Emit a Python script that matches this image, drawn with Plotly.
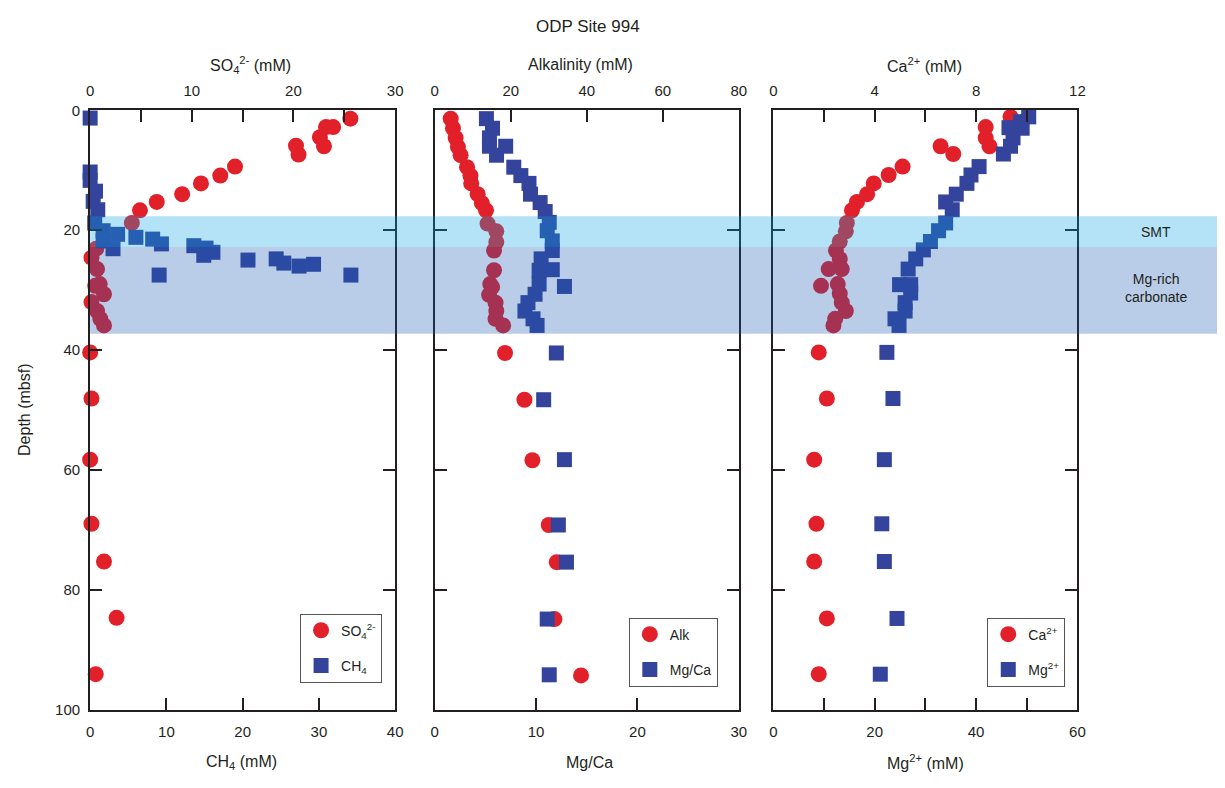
import plotly.graph_objects as go

# ---------------- data (depth in mbsf) ----------------
so4_depth = [1.4, 2.8, 2.8, 4.5, 5.9, 6.0, 7.4, 9.4, 10.9, 12.2, 14.0, 15.3, 16.7, 18.8,
             23.1, 24.6, 26.5, 29.0, 29.3, 30.7, 32.0, 33.5, 34.8, 35.9, 40.4, 48.1,
             58.3, 69.0, 75.3, 84.7, 94.1]
so4_val = [25.6, 23.2, 23.9, 22.6, 20.25, 23.0, 20.5, 14.25, 12.8, 10.9, 9.05, 6.55, 4.9, 4.1,
           0.6, 0.13, 0.68, 0.94, 0.5, 1.36, 0.13, 0.68, 1.0, 1.36, 0.0, 0.13,
           0.0, 0.13, 1.36, 2.6, 0.55]

ch4_depth = [1.3, 10.3, 11.7, 13.5, 15.2, 16.6, 18.8, 20.1, 20.7, 21.2, 21.5, 21.8, 22.3,
             22.6, 23.0, 23.1, 23.7, 24.2, 24.8, 25.0, 25.5, 25.7, 26.0, 27.5, 27.5]
ch4_val = [0.0, 0.0, 0.0, 0.7, 0.4, 1.0, 0.6, 1.7, 3.6, 6.0, 8.2, 1.7, 9.35,
           13.6, 15.2, 3.0, 16.1, 14.9, 24.4, 20.7, 25.4, 29.3, 27.4, 9.05, 34.2]

alk_depth = [1.4, 3.0, 4.6, 6.1, 7.5, 9.5, 10.9, 12.2, 14.0, 15.5, 16.7, 18.9, 20.2, 22.0,
             23.4, 26.7, 29.0, 29.5, 30.8, 32.1, 33.5, 34.8, 35.9, 40.5, 48.3, 58.4,
             69.2, 75.4, 84.9, 94.3]
alk_val = [4.2, 4.8, 5.5, 6.1, 6.8, 8.5, 9.4, 9.6, 11.3, 12.4, 13.5, 13.9, 16.2, 16.2,
           15.6, 15.6, 14.6, 15.1, 14.3, 16.0, 16.2, 16.0, 18.0, 18.5, 23.6, 25.7,
           30.0, 32.1, 31.5, 38.5]

mgca_depth = [1.4, 3.0, 4.6, 6.0, 6.0, 7.5, 9.5, 10.9, 12.2, 14.0, 15.4, 16.9, 18.7, 20.1,
              21.8, 23.4, 24.8, 26.6, 26.7, 29.0, 29.4, 30.7, 32.1, 33.5, 34.8, 35.9,
              40.5, 48.3, 58.3, 69.2, 75.4, 84.9, 94.2]
mgca_val = [5.1, 5.7, 5.4, 5.4, 7.0, 6.1, 7.8, 8.5, 9.3, 9.45, 10.4, 10.9, 11.3, 11.1,
            11.6, 11.6, 10.5, 11.6, 10.3, 10.3, 12.8, 9.9, 9.2, 8.9, 9.7, 10.1,
            12.0, 10.75, 12.8, 12.2, 13.0, 11.1, 11.3]

ca_depth = [1.1, 2.8, 4.6, 6.0, 6.0, 7.3, 9.4, 10.8, 12.2, 14.0, 15.3, 16.7, 18.8, 20.2,
            21.9, 23.4, 24.8, 26.5, 26.5, 29.0, 29.3, 30.6, 32.1, 33.5, 34.8, 35.9,
            40.4, 48.1, 58.3, 69.0, 75.3, 84.8, 94.1]
ca_val = [9.36, 8.38, 8.38, 8.53, 6.6, 7.1, 5.1, 4.55, 3.96, 3.7, 3.3, 3.1, 2.9, 2.86,
          2.62, 2.47, 2.62, 2.7, 2.18, 2.54, 1.88, 2.62, 2.7, 2.86, 2.44, 2.37,
          1.79, 2.11, 1.61, 1.7, 1.61, 2.11, 1.79]

mg_depth = [1.1, 1.9, 2.9, 3.0, 4.6, 6.0, 7.3, 9.4, 10.8, 12.2, 14.0, 15.3, 16.6, 18.8,
            20.1, 21.9, 23.3, 24.8, 26.5, 29.1, 29.1, 30.5, 32.1, 33.5, 34.8, 35.9,
            40.4, 48.1, 58.3, 69.0, 75.3, 84.8, 94.1]
mg_val = [50.4, 48.8, 46.5, 49.1, 47.3, 46.8, 45.4, 40.6, 39.0, 38.2, 36.1, 34.0, 35.3, 34.0,
          32.6, 31.0, 29.6, 28.1, 26.6, 27.1, 24.9, 27.1, 26.0, 26.0, 24.0, 24.8,
          22.4, 23.6, 21.9, 21.4, 21.9, 24.4, 21.1]

# zone boundaries (mbsf)
smt_top, smt_bottom, carb_bottom = 17.7, 22.8, 37.3

# tick labels
top_ticks = [[0, 10, 20, 30], [0, 20, 40, 60, 80], [0, 4, 8, 12]]
top_minor = [5, 20, 2]
bot_ticks = [[0, 10, 20, 30, 40], [0, 10, 20, 30], [0, 20, 40, 60]]
bot_minor = [10, 10, 10]
top_ranges = [[0, 30], [0, 80], [0, 12]]
bot_ranges = [[0, 40], [0, 30], [0, 60]]
depth_ticks = [0, 20, 40, 60, 80, 100]

# ---------------- styling ----------------
W, H = 1225, 788
RED = '#e2202a'
BLUE = '#34449c'
INK = '#231f20'
FONT = 'Liberation Sans, Arial, sans-serif'

def px_x(p):
    return p / W

def px_y(p):
    return 1 - p / H

panels = [(87, 395), (435, 742), (777, 1084)]
ydom = [px_y(716), px_y(103.5)]

axbase = dict(showline=True, linewidth=2, linecolor=INK, ticks='inside', ticklen=12,
              tickwidth=2, tickcolor=INK, showgrid=False, zeroline=False,
              tickfont=dict(size=15, color=INK, family=FONT))

def minor(d):
    return dict(dtick=d, tick0=0, ticks='inside', ticklen=12, tickwidth=2, tickcolor=INK,
                showgrid=False)

fig = go.Figure()

def add_pair(i, red_x, red_y, red_name, blue_x, blue_y, blue_name, legend):
    n = i + 1
    top = 'x' if n == 1 else f'x{n}'
    bot = f'x{n + 3}'
    ya = 'y' if n == 1 else f'y{n}'
    fig.add_trace(go.Scatter(x=red_x, y=red_y, mode='markers', name=red_name,
                             xaxis=top, yaxis=ya, cliponaxis=False, legend=legend,
                             legendgroup=red_name,
                             marker=dict(symbol='circle', size=16, color=RED, line=dict(width=0))))
    fig.add_trace(go.Scatter(x=blue_x, y=blue_y, mode='markers', name=blue_name,
                             xaxis=bot, yaxis=ya, cliponaxis=False, legend=legend,
                             legendgroup=blue_name,
                             marker=dict(symbol='square', size=15, color=BLUE, line=dict(width=0))))

add_pair(0, so4_val, so4_depth, 'SO<sub>4</sub><sup>2-</sup>', ch4_val, ch4_depth, 'CH<sub>4</sub>', 'legend')
add_pair(1, alk_val, alk_depth, 'Alk', mgca_val, mgca_depth, 'Mg/Ca', 'legend2')
add_pair(2, ca_val, ca_depth, 'Ca<sup>2+</sup>', mg_val, mg_depth, 'Mg<sup>2+</sup>', 'legend3')

layout = dict(width=W, height=H, margin=dict(l=0, r=0, t=0, b=0),
              paper_bgcolor='white', plot_bgcolor='rgba(0,0,0,0)',
              font=dict(family=FONT, color=INK))

for i, (x0, x1) in enumerate(panels):
    n = i + 1
    top_key = 'xaxis' if n == 1 else f'xaxis{n}'
    bot_key = f'xaxis{n + 3}'
    y_key = 'yaxis' if n == 1 else f'yaxis{n}'
    ya = 'y' if n == 1 else f'y{n}'
    top_name = 'x' if n == 1 else f'x{n}'
    layout[top_key] = dict(axbase, domain=[px_x(x0), px_x(x1)], anchor=ya, side='top',
                           ticklabelstandoff=6, range=top_ranges[i],
                           tickvals=top_ticks[i], minor=minor(top_minor[i]))
    layout[bot_key] = dict(axbase, overlaying=top_name, anchor=ya, side='bottom',
                           ticklabelstandoff=7, range=bot_ranges[i],
                           tickvals=bot_ticks[i], minor=minor(bot_minor[i]))
    layout[y_key] = dict(axbase, domain=ydom, anchor=top_name, range=[100, 0],
                         tickvals=depth_ticks, mirror='ticks',
                         showticklabels=(n == 1), ticklabelstandoff=5)

legend_style = dict(bgcolor='white', bordercolor='#555555', borderwidth=1,
                    font=dict(size=14, color=INK, family=FONT), xanchor='left', yanchor='top',
                    tracegroupgap=14, itemsizing='trace', traceorder='grouped')
layout['legend'] = dict(legend_style, x=px_x(299), y=px_y(618))
layout['legend2'] = dict(legend_style, x=px_x(631), y=px_y(622))
layout['legend3'] = dict(legend_style, x=px_x(993), y=px_y(622))
layout['showlegend'] = True

layout['shapes'] = [
    dict(type='rect', xref='paper', yref='y', x0=px_x(87), x1=1.0, y0=smt_top, y1=smt_bottom,
         fillcolor='rgb(5,162,228)', opacity=0.3, line=dict(width=0), layer='above'),
    dict(type='rect', xref='paper', yref='y', x0=px_x(87), x1=1.0, y0=smt_bottom, y1=carb_bottom,
         fillcolor='rgb(22,88,178)', opacity=0.3, line=dict(width=0), layer='above'),
]

def ann(text, x, y, size=16, angle=0):
    return dict(text=text, x=px_x(x), y=px_y(y), xref='paper', yref='paper', showarrow=False,
                xanchor='center', yanchor='middle', textangle=angle,
                font=dict(size=size, color=INK, family=FONT))

layout['annotations'] = [
    ann('ODP Site 994', 590, 18, size=17),
    ann('SO<sub>4</sub><sup>2-</sup> (mM)', 249, 57),
    ann('Alkalinity (mM)', 582, 57),
    ann('Ca<sup>2+</sup> (mM)', 930, 57),
    ann('CH<sub>4</sub> (mM)', 240, 770),
    ann('Mg/Ca', 591, 770),
    ann('Mg<sup>2+</sup> (mM)', 931, 770),
    ann('Depth (mbsf)', 20, 410, angle=-90),
    ann('SMT', 1163, 228, size=14),
    ann('Mg-rich<br>carbonate', 1163, 285, size=14),
]

fig.update_layout(layout)
fig.write_html('out.html')
